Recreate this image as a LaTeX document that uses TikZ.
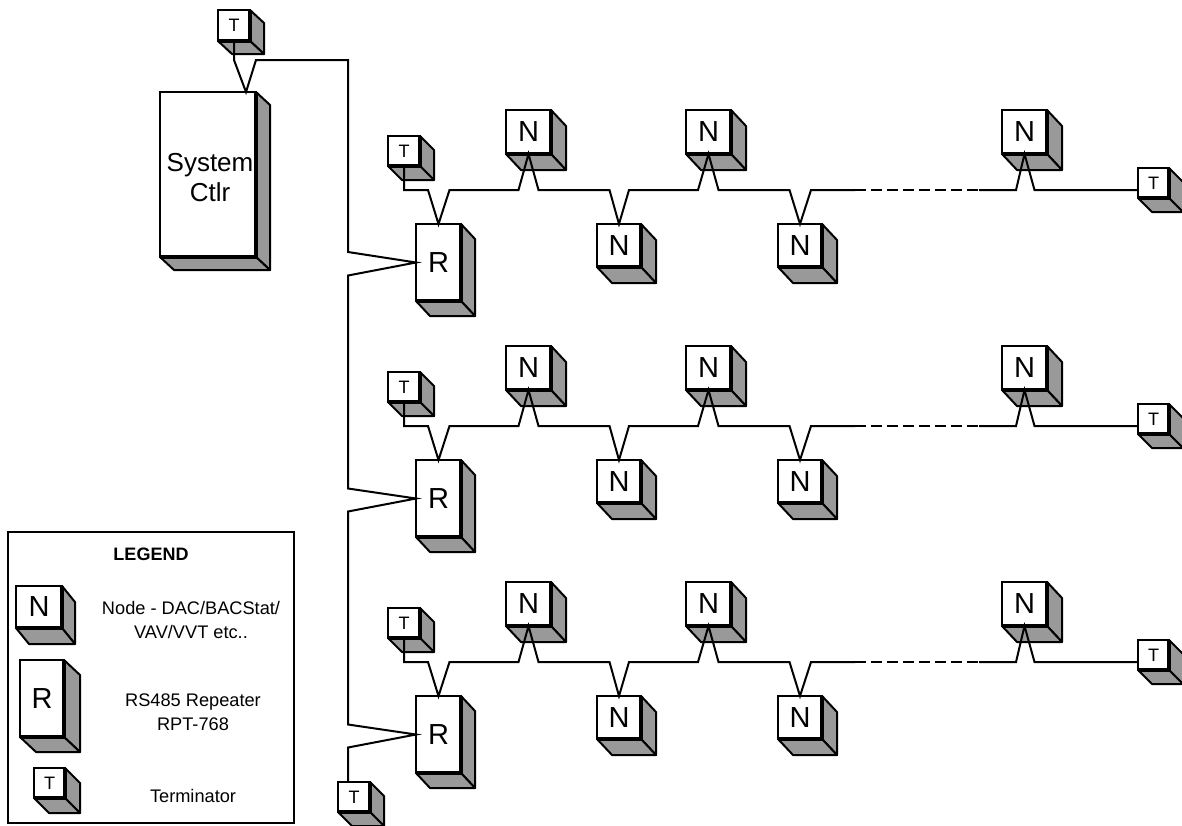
\documentclass[tikz,border=0pt]{standalone}
\usepackage{fontspec}
\setmainfont{Liberation Sans}
\usetikzlibrary{calc}
\definecolor{facegray}{HTML}{999999}
\tikzset{
  cube/.style={draw,fill=white,line width=2pt,inner sep=0pt,outer sep=0pt,anchor=north west,align=center},
  face/.style={draw,fill=facegray,line width=2pt,line join=round},
  wire/.style={line width=2pt,line join=miter},
  big/.style={font=\fontsize{29}{30}\selectfont},
  small/.style={font=\fontsize{18}{24}\selectfont},
  note/.style={align=center,font=\fontsize{18.2}{24}\selectfont}
}
% name, x, y, width, height, dx, dy, style, text
\newcommand{\cubebox}[9]{
\node[cube,#8,minimum width=#4pt,minimum height=#5pt] (#1) at (#2,#3) {#9};
\draw[face] (#1.north east) -- ++(#6,#7) -- ++(0,#5) -- ++(-#6,-#7) -- cycle;
\draw[face] (#1.south west) -- ++(#6,#7) -- ++(#4,0) -- ++(-#6,-#7) -- cycle;
\draw[line width=3.5pt] (#1.south west) -- (#1.south east) -- (#1.north east);
}
\begin{document}
\begin{tikzpicture}[x=1pt,y=-1pt]
\useasboundingbox (0,0) rectangle (1182,825);

\cubebox{endtop}{218}{10}{32}{31}{14}{13}{small}{T}
\cubebox{sys}{160}{92}{96}{165}{14}{13}{big}{}
\node[align=center,font=\fontsize{26}{30}\selectfont] (sysname) at (210,178) {System\\Ctlr};

\foreach \r/\off in {1/0,2/236,3/472}{
  \cubebox{rep\r}{416}{224+\off}{45}{77}{14}{15}{big}{R}
  \cubebox{endl\r}{388}{136+\off}{32}{30}{14}{14}{small}{T}
  \cubebox{na\r}{506}{110+\off}{45}{44}{15}{16}{big}{N}
  \cubebox{nb\r}{597}{224+\off}{44}{43}{15}{16}{big}{N}
  \cubebox{nc\r}{686}{110+\off}{45}{44}{15}{16}{big}{N}
  \cubebox{nd\r}{778}{224+\off}{44}{43}{15}{16}{big}{N}
  \cubebox{ne\r}{1002}{110+\off}{45}{44}{15}{16}{big}{N}
  \cubebox{endr\r}{1138}{168+\off}{31}{30}{14}{14}{small}{T}

  % bus of the row
  \draw[wire] (endl\r.south) -- ++(0,24) -- ++(24,0) -- (rep\r.north) -- ++(11,-34) -- ++(69,0)
    -- (na\r.south) -- ++(10,36) -- ++(71,0) -- (nb\r.north) -- ++(10,-34) -- ++(69,0)
    -- (nc\r.south) -- ++(10,36) -- ++(71,0) -- (nd\r.north) -- ++(11,-34) -- ++(44,0) coordinate (dashl\r);
  \draw[wire,dash pattern=on 11pt off 5pt] (dashl\r) -- ++(124,0) coordinate (dashr\r);
  \draw[wire] (dashr\r) -- ++(37,0) -- (ne\r.south) -- ++(10,36) -- ($(endr\r.south west)+(0,-8)$);
}

\cubebox{endbot}{338}{782}{32}{30}{14}{14}{small}{T}

% trunk
\coordinate (sysin) at (246,92);
\draw[wire] (endtop.south) -- ++(0,19) -- (sysin) -- ++(10,-32) -- ++(92,0) -- ++(0,192)
  -- (rep1.west) -- ++(-68,13) -- ++(0,213)
  -- (rep2.west) -- ++(-68,13) -- ++(0,213)
  -- (rep3.west) -- ++(-68,13) -- ($(endbot.north west)+(10,0)$);

% legend
\node[draw,line width=2pt,inner sep=0pt,outer sep=0pt,anchor=north west,minimum width=286pt,minimum height=291pt] (legend) at (8,532) {};
\node[font=\fontsize{18}{24}\selectfont\bfseries] (legendtitle) at (151,554) {LEGEND};
\cubebox{keyn}{16}{586}{46}{42}{13}{16}{big}{N}
\cubebox{keyr}{20}{660}{44}{77}{16}{15}{big}{\raisebox{-4pt}{R}}
\cubebox{keyt}{34}{768}{31}{30}{15}{15}{small}{T}
\node[note] (keyntext) at (191,620) {Node - DAC/BACStat/\\VAV/VVT etc..};
\node[note] (keyrtext) at (193,712) {RS485 Repeater\\RPT-768};
\node[note] (keyttext) at (193,796) {Terminator};
\end{tikzpicture}
\end{document}
